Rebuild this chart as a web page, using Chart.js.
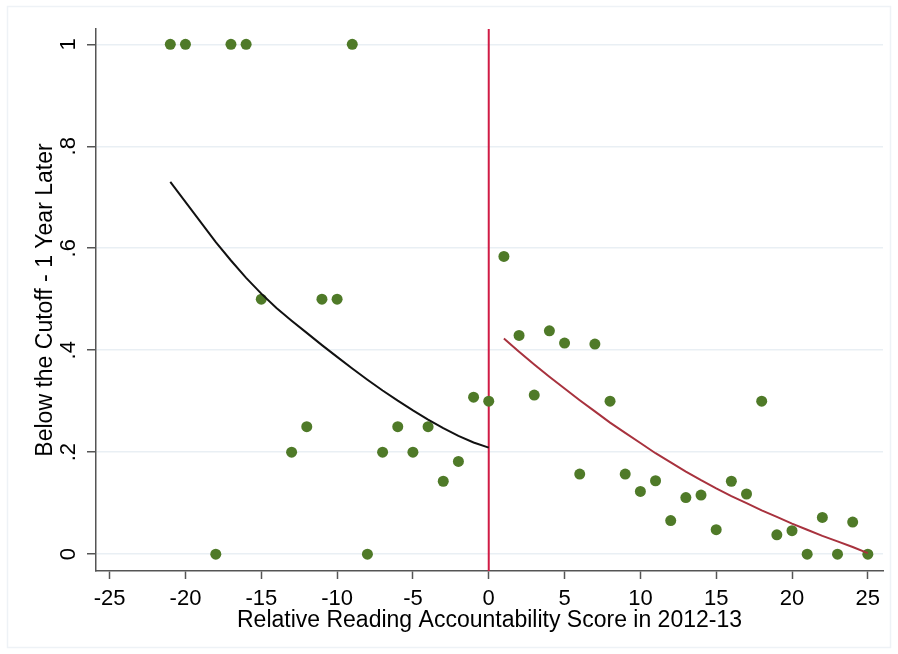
<!DOCTYPE html>
<html>
<head>
<meta charset="utf-8">
<title>Below the Cutoff - 1 Year Later</title>
<script src="https://cdn.jsdelivr.net/npm/chart.js@4.4.1/dist/chart.umd.min.js"></script>
<style>
  html, body { margin: 0; padding: 0; background: #fff; }
  #wrap { width: 898px; height: 654px; }
</style>
</head>
<body>
<div id="wrap"><canvas id="rdChart" width="898" height="654"></canvas></div>
<script>
// Binned shares, left of the cutoff
const leftScores = [-21, -20, -18, -17, -16, -15, -13, -12, -11, -10, -9, -8, -7, -6, -5, -4, -3, -2, -1, 0];
const leftShares = [1, 1, 0, 1, 1, 0.5, 0.2, 0.25, 0.5, 0.5, 1, 0, 0.2, 0.25, 0.2, 0.25, 0.143, 0.182, 0.308, 0.3];

// Binned shares, right of the cutoff
const rightScores = [1, 2, 3, 4, 5, 6, 7, 8, 9, 10, 11, 12, 13, 14, 15, 16, 17, 18, 19, 20, 21, 22, 23, 24, 25];
const rightShares = [0.584, 0.429, 0.312, 0.438, 0.414, 0.157, 0.412, 0.3, 0.157, 0.123, 0.144, 0.066, 0.111, 0.116, 0.048,
                     0.143, 0.118, 0.3, 0.038, 0.046, 0, 0.072, 0, 0.063, 0];

// Fitted lines
const leftFitScores = [-21, -18, -17, -16, -15, -14, -13, -12, -11, -10, -9, -8, -7, -6, -5, -4, -3, -2, -1, 0];
const leftFitValues = [0.730, 0.612, 0.576, 0.542, 0.511, 0.483, 0.458, 0.434, 0.410, 0.387, 0.364, 0.342, 0.321, 0.301,
                       0.282, 0.264, 0.247, 0.232, 0.219, 0.209];
const rightFitScores = [1, 2, 3, 4, 5, 6, 7, 8, 9, 10, 11, 12, 13, 14, 15, 16, 17, 18, 19, 20, 21, 22, 23, 24, 25];
const rightFitValues = [0.423, 0.397, 0.372, 0.348, 0.325, 0.302, 0.280, 0.258, 0.238, 0.218, 0.198, 0.180, 0.162, 0.145,
                        0.129, 0.114, 0.100, 0.086, 0.073, 0.060, 0.048, 0.036, 0.025, 0.014, 0.002];

const xTicks = [-25, -20, -15, -10, -5, 0, 5, 10, 15, 20, 25];
const yTicks = [0, 0.2, 0.4, 0.6, 0.8, 1];
const yTickLabels = ['0', '.2', '.4', '.6', '.8', '1'];
const cutoff = 0;

const FONT = '"Liberation Sans", Arial, sans-serif';
const pts = (xs, ys) => xs.map((x, i) => ({ x: x, y: ys[i] }));

// white page + faint outer frame, like the Stata graph region
const backgroundPlugin = {
  id: 'background',
  beforeDraw(chart) {
    const ctx = chart.ctx;
    ctx.save();
    ctx.fillStyle = '#fff';
    ctx.fillRect(0, 0, chart.width, chart.height);
    ctx.strokeStyle = '#eef2f6';
    ctx.lineWidth = 1.5;
    ctx.strokeRect(7.5, 6.5, chart.width - 15, chart.height - 13);
    ctx.restore();
  }
};

// vertical line at the cutoff
const cutoffPlugin = {
  id: 'cutoffLine',
  beforeDatasetsDraw(chart) {
    const { ctx, chartArea } = chart;
    const px = chart.scales.x.getPixelForValue(cutoff);
    ctx.save();
    ctx.strokeStyle = '#d01b45';
    ctx.lineWidth = 2;
    ctx.beginPath();
    ctx.moveTo(px, chartArea.top);
    ctx.lineTo(px, chartArea.bottom);
    ctx.stroke();
    ctx.restore();
  }
};

// rotated y tick labels (Stata style)
const yLabelsPlugin = {
  id: 'yLabels',
  afterDraw(chart) {
    const ctx = chart.ctx;
    const y = chart.scales.y;
    ctx.save();
    ctx.font = '22px ' + FONT;
    ctx.fillStyle = '#000';
    ctx.textAlign = 'center';
    ctx.textBaseline = 'middle';
    yTicks.forEach((v, i) => {
      const py = y.getPixelForValue(v);
      ctx.save();
      ctx.translate(y.right - 27, py);
      ctx.rotate(-Math.PI / 2);
      ctx.fillText(yTickLabels[i], 0, 0);
      ctx.restore();
    });
    ctx.restore();
  }
};

new Chart(document.getElementById('rdChart'), {
  type: 'scatter',
  data: {
    datasets: [
      {
        label: 'Fit left',
        data: pts(leftFitScores, leftFitValues),
        showLine: true,
        borderColor: '#111111',
        borderWidth: 2,
        pointRadius: 0,
        tension: 0,
        fill: false
      },
      {
        label: 'Fit right',
        data: pts(rightFitScores, rightFitValues),
        showLine: true,
        borderColor: '#a8323e',
        borderWidth: 2,
        pointRadius: 0,
        tension: 0,
        fill: false
      },
      {
        label: 'Left',
        data: pts(leftScores, leftShares),
        backgroundColor: '#4f7a28',
        borderWidth: 0,
        pointRadius: 5.5
      },
      {
        label: 'Right',
        data: pts(rightScores, rightShares),
        backgroundColor: '#4f7a28',
        borderWidth: 0,
        pointRadius: 5.5
      }
    ]
  },
  options: {
    responsive: false,
    animation: false,
    devicePixelRatio: 1,
    layout: { padding: { top: 29, right: 15, left: 0, bottom: 0 } },
    plugins: {
      legend: { display: false },
      tooltip: { enabled: false }
    },
    scales: {
      x: {
        type: 'linear',
        min: -25.9,
        max: 26,
        afterBuildTicks: s => { s.ticks = xTicks.map(v => ({ value: v })); },
        afterFit: s => { s.height = 83; },
        grid: { drawOnChartArea: false, drawTicks: true, tickLength: 8, tickColor: '#555', tickWidth: 1.5 },
        border: { display: true, color: '#555', width: 1.5 },
        ticks: { color: '#000', font: { size: 22, family: FONT }, padding: 7, maxRotation: 0, autoSkip: false },
        title: {
          display: true,
          text: 'Relative Reading Accountability Score in 2012-13',
          color: '#000',
          font: { size: 23, family: FONT },
          padding: { top: 0, bottom: 20 }
        }
      },
      y: {
        type: 'linear',
        min: -0.033,
        max: 1.03,
        afterBuildTicks: s => { s.ticks = yTicks.map(v => ({ value: v })); },
        afterFit: s => { s.width = 96; },
        grid: { color: '#e9eff4', lineWidth: 1.5, tickLength: 9, tickColor: '#555', tickWidth: 1.5 },
        border: { display: true, color: '#555', width: 1.5 },
        ticks: { display: false },
        title: {
          display: true,
          text: 'Below the Cutoff - 1 Year Later',
          color: '#000',
          font: { size: 23, family: FONT },
          padding: { top: 32, bottom: 0 }
        }
      }
    }
  },
  plugins: [backgroundPlugin, cutoffPlugin, yLabelsPlugin]
});
</script>
</body>
</html>
